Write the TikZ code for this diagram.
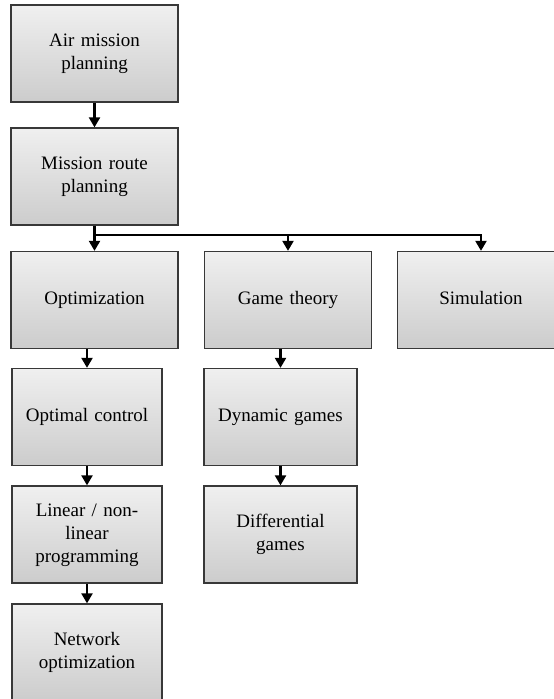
\documentclass[tikz,border=0pt]{standalone}
\usepackage{fontspec}
\setmainfont{Liberation Serif}
\usetikzlibrary{arrows.meta,calc}
\tikzset{
  box/.style={draw=black!78, line width=1.3pt, top color=gray!12, bottom color=gray!40,
    rectangle, align=center, inner sep=2pt, minimum height=97pt,
    font=\fontsize{19}{23}\selectfont,
    execute at begin node={\strut}, execute at end node={\strut}},
  wide/.style={box, minimum width=167pt, text width=150pt},
  narrow/.style={box, minimum width=150pt, text width=140pt},
  mid/.style={box, minimum width=153pt, text width=140pt},
  link/.style={line width=2.2pt, -{Triangle[length=10pt,width=11pt]}},
  plain/.style={line width=2.2pt}
}
\begin{document}
\begin{tikzpicture}[x=1pt,y=-1pt]
\useasboundingbox (0,0) rectangle (554,699);
\clip (0,0) rectangle (554,699);
\fill[white] (0,0) rectangle (554,699);

% top of the hierarchy
\node[wide] (air)   at (94.5,53.5)  {Air mission\\planning};
\node[wide] (route) at (94.5,176.5) {Mission route\\planning};

% three families of methods
\node[wide] (opt)  at (94.5,300) {Optimization};
\node[wide] (game) at (288,300)  {Game theory};
\node[wide] (sim)  at (481,300)  {Simulation};

% optimization branch
\node[narrow] (oc)  at (87,417)   {Optimal control};
\node[narrow] (lin) at (87,534.5) {Linear / non-\\linear\\programming};
\node[narrow] (net) at (87,652.5) {Network\\optimization};

% game theory branch
\node[mid] (dyn)  at (280.5,417)   {Dynamic games};
\node[mid] (diff) at (280.5,534.5) {Differential\\games};

% connectors
\draw[link] (air) -- (route);
\coordinate (split) at ($(route.south)+(0,9)$);
\draw[plain] (route.south) -- (split);
\draw[plain, line cap=rect] (split) -- (split -| sim.north);
\draw[link] (split) -- (opt.north);
\draw[link] (split -| game.north) -- (game.north);
\draw[link] (split -| sim.north) -- (sim.north);

\draw[link] (opt.south -| oc.north) -- (oc.north);
\draw[link] (oc) -- (lin);
\draw[link] (lin) -- (net);

\draw[link] (game.south -| dyn.north) -- (dyn.north);
\draw[link] (dyn) -- (diff);
\end{tikzpicture}
\end{document}
